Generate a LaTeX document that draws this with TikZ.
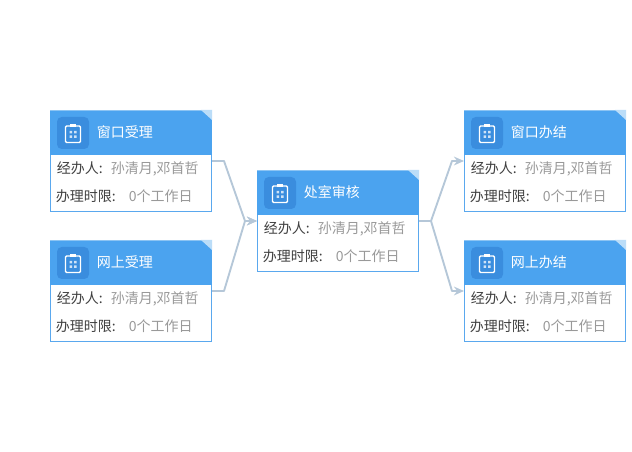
\documentclass[tikz,border=0pt]{standalone}
\usepackage{fontspec}
\setmainfont{Noto Sans CJK SC}
\usetikzlibrary{arrows.meta}
\definecolor{headblue}{HTML}{4BA3EF}
\definecolor{edgeblue}{HTML}{5AA8EE}
\definecolor{iconblue}{HTML}{3A8DDE}
\definecolor{foldblue}{HTML}{BBDDF8}
\definecolor{topblue}{HTML}{8CC4F3}
\definecolor{linkgrey}{HTML}{B5C7D8}
\definecolor{valgrey}{HTML}{999999}
\definecolor{labgrey}{HTML}{404040}
\definecolor{dotblue}{HTML}{CFE3F7}
\tikzset{
  x=0.75pt,y=-0.75pt,
  cardbody/.style={fill=edgeblue,minimum width=121.5pt,minimum height=76.5pt,inner sep=0pt,outer sep=0pt,anchor=north west},
  cardinner/.style={fill=white,minimum width=120pt,minimum height=42pt,inner sep=0pt,outer sep=0pt,anchor=north west},
  cardhead/.style={fill=headblue,minimum width=121.5pt,minimum height=33.75pt,inner sep=0pt,outer sep=0pt,anchor=north west},
  cardicon/.style={fill=iconblue,rounded corners=3.5pt,minimum size=24pt,inner sep=0pt,outer sep=0pt,anchor=north west},
  titletext/.style={anchor=west,inner sep=0pt,text=white,font=\fontsize{10.5pt}{12pt}\selectfont},
  labeltext/.style={anchor=west,inner sep=0pt,text=labgrey,font=\fontsize{10.5pt}{12pt}\selectfont},
  valuetext/.style={anchor=west,inner sep=0pt,text=valgrey,font=\fontsize{10.5pt}{12pt}\selectfont},
  link/.style={draw=linkgrey,line width=1.4pt,line join=round},
  linkarrow/.style={link,-{Stealth[length=7.5pt,width=6.5pt,inset=2.4pt]}},
}
% #1 name, #2 x, #3 y, #4 title
\newcommand{\flowcard}[4]{%
  \node[cardbody] (#1) at (#2,#3) {};
  \node[cardinner] (#1p) at (#2+1,#3+45) {};
  \node[cardhead] (#1h) at (#2,#3) {};
  \fill[topblue] (#2,#3) rectangle ++(162,1.5);
  \fill[foldblue] (#2+151,#3) -- (#2+162,#3) -- (#2+162,#3+10) -- cycle;
  \node[cardicon] (#1i) at (#2+7,#3+7) {};
  \begin{scope}[shift={(#2+7,#3+7)}]
    \draw[white,line width=1pt,rounded corners=0.8pt] (8.5,9) rectangle (23.5,25.5);
    \fill[white] (13,7) rectangle (19,10.5);
    \fill[dotblue] (12.5,14) rectangle (15,16.5) (17,14) rectangle (19.5,16.5)
      (12.5,18.5) rectangle (15,21) (17,18.5) rectangle (19.5,21);
  \end{scope}
  \node[titletext] (#1t) at (#2+46.5,#3+22.5) {#4};
  \node[labeltext] (#1a) at (#2+6.5,#3+58.5) {经办人:};
  \node[valuetext] (#1b) at (#2+60.5,#3+58.5) {孙清月,邓首哲};
  \node[labeltext] (#1c) at (#2+5.5,#3+86.5) {办理时限:};
  \node[valuetext] (#1d) at (#2+78.5,#3+86.5) {0个工作日};
  \coordinate (#1in) at (#2,#3+51);
  \coordinate (#1out) at (#2+162,#3+51);
}
\begin{document}
\begin{tikzpicture}
\useasboundingbox (0,0) rectangle (632,452);
\fill[white] (0,0) rectangle (632,452);
\flowcard{ca}{50}{110}{窗口受理}
\flowcard{cb}{50}{240}{网上受理}
\flowcard{cc}{257}{170}{处室审核}
\flowcard{cd}{464}{110}{窗口办结}
\flowcard{ce}{464}{240}{网上办结}
\draw[linkarrow] (caout) -- ++(12,0) -- ([xshift=-9pt]ccin) -- (ccin);
\draw[linkarrow] (cbout) -- ++(12,0) -- ([xshift=-9pt]ccin) -- (ccin);
\draw[linkarrow] (ccout) -- ++(12,0) -- ([xshift=-9pt]cdin) -- (cdin);
\draw[linkarrow] (ccout) -- ++(12,0) -- ([xshift=-9pt]cein) -- (cein);
\end{tikzpicture}
\end{document}
